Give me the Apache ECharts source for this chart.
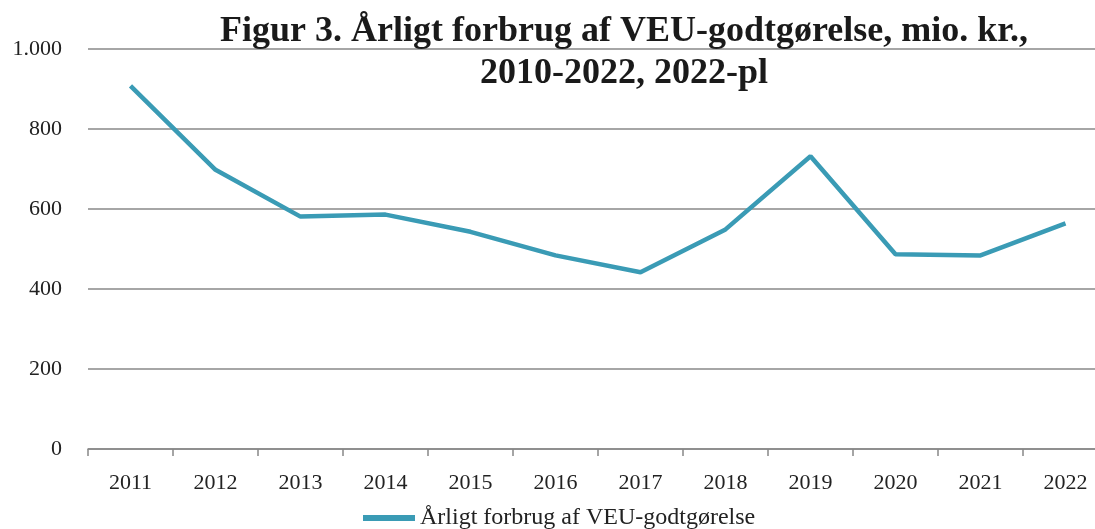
<!DOCTYPE html>
<html>
<head>
<meta charset="utf-8">
<script src="https://cdn.jsdelivr.net/npm/echarts@6/dist/echarts.min.js"></script>
<style>
  html, body { margin: 0; padding: 0; background: #fff; overflow: hidden; }
  #main { width: 1108px; height: 529px; }
</style>
</head>
<body>
<div id="main"></div>
<script>
var years = ['2011', '2012', '2013', '2014', '2015', '2016', '2017', '2018', '2019', '2020', '2021', '2022'];
var forbrug = [908, 698, 581, 586, 543, 484, 442, 549, 732, 487, 484, 564];
var seriesName = 'Årligt forbrug af VEU-godtgørelse';

var font = '"Liberation Serif", "DejaVu Serif", serif';
var myChart = echarts.init(document.getElementById('main'));

var option = {
    backgroundColor: '#fff',
    animation: false,
    title: {
        text: 'Figur 3. Årligt forbrug af VEU-godtgørelse, mio. kr.,\n2010-2022, 2022-pl',
        left: 619,
        top: 6,
        textAlign: 'center',
        textStyle: { fontFamily: font, fontSize: 36, fontWeight: 'bold', color: '#1a1a1a', lineHeight: 42 }
    },
    legend: {
        data: [seriesName],
        left: 358,
        top: 501,
        itemWidth: 52,
        itemHeight: 6,
        icon: 'rect',
        itemGap: 10,
        textStyle: { fontFamily: font, fontSize: 24, color: '#222' }
    },
    grid: { left: 88, right: 0, top: 49, bottom: 80, containLabel: false },
    xAxis: {
        type: 'category',
        data: years,
        boundaryGap: true,
        axisLine: { lineStyle: { color: '#888', width: 1.5 } },
        axisTick: { show: true, length: 7, lineStyle: { color: '#888', width: 1.5 } },
        axisLabel: { fontFamily: font, fontSize: 22, color: '#222', margin: 23 }
    },
    yAxis: {
        type: 'value',
        min: 0,
        max: 1000,
        interval: 200,
        axisLine: { show: false },
        axisTick: { show: false },
        splitLine: { lineStyle: { color: '#888', width: 1.5 } },
        axisLabel: {
            fontFamily: font, fontSize: 22, color: '#222', margin: 26,
            formatter: function (v) { return v >= 1000 ? (v / 1000) + '.000' : v; }
        }
    },
    series: [{
        name: seriesName,
        type: 'line',
        data: forbrug,
        symbol: 'none',
        lineStyle: { color: '#3A9BB5', width: 4.5 },
        itemStyle: { color: '#3A9BB5' }
    }]
};

myChart.setOption(option);
</script>
</body>
</html>
